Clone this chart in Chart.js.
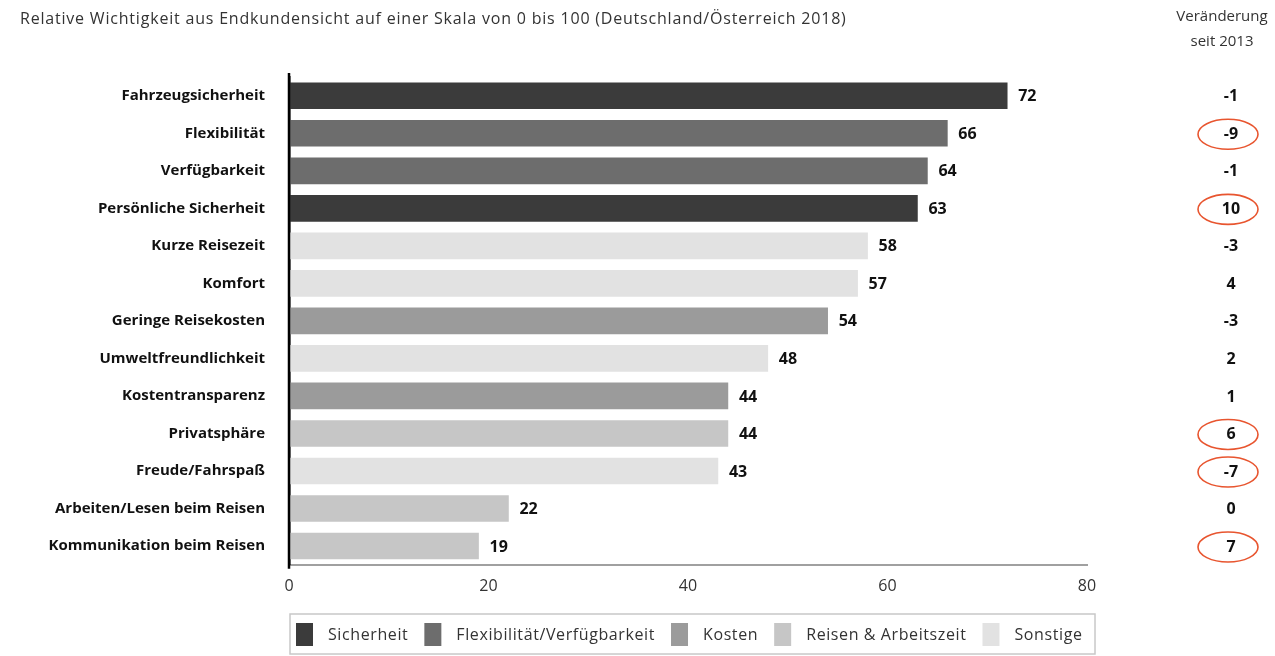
<!DOCTYPE html>
<html lang="de">
<head>
  <meta charset="UTF-8">
  <title>Relative Wichtigkeit aus Endkundensicht</title>
  <script src="https://cdn.jsdelivr.net/npm/chart.js"></script>
  <style>
    html, body { margin: 0; padding: 0; background: #fff; }
    #wrap { width: 1275px; height: 656px; position: relative; }
  </style>
</head>
<body>
<div id="wrap"><canvas id="chart" width="1275" height="656"></canvas></div>
<script>
  const kategorien = [
    'Fahrzeugsicherheit', 'Flexibilität', 'Verfügbarkeit', 'Persönliche Sicherheit',
    'Kurze Reisezeit', 'Komfort', 'Geringe Reisekosten', 'Umweltfreundlichkeit',
    'Kostentransparenz', 'Privatsphäre', 'Freude/Fahrspaß',
    'Arbeiten/Lesen beim Reisen', 'Kommunikation beim Reisen'
  ];
  const werte = [72, 66, 64, 63, 58, 57, 54, 48, 44, 44, 43, 22, 19];
  // Gruppe je Kategorie (Index in gruppen)
  const gruppeIdx = [0, 1, 1, 0, 4, 4, 2, 4, 2, 3, 4, 3, 3];
  const gruppen = ['Sicherheit', 'Flexibilität/Verfügbarkeit', 'Kosten', 'Reisen & Arbeitszeit', 'Sonstige'];
  const farben = ['#3b3b3b', '#6d6d6d', '#9b9b9b', '#c6c6c6', '#e2e2e2'];
  const veraenderung = ['-1', '-9', '-1', '10', '-3', '4', '-3', '2', '1', '6', '-7', '0', '7'];
  const markiert = [false, true, false, true, false, false, false, false, false, true, true, false, true];
  const xTicks = [0, 20, 40, 60, 80];

  const FONT = '"Open Sans", Lato, sans-serif';

  const datasets = gruppen.map((g, gi) => ({
    label: g,
    data: werte.map((v, i) => gruppeIdx[i] === gi ? v : null),
    backgroundColor: farben[gi],
    barThickness: 26,
    grouped: false
  }));

  // Werte an Balkenende, rechte Spalte, Titel und Legende
  const extras = {
    id: 'extras',
    afterDraw(chart) {
      const ctx = chart.ctx;
      const x = chart.scales.x, y = chart.scales.y;
      ctx.save();

      // Achsenlinie links etwas nach oben verlängern
      ctx.strokeStyle = '#000';
      ctx.lineWidth = 2.5;
      ctx.beginPath();
      ctx.moveTo(x.getPixelForValue(0), 73);
      ctx.lineTo(x.getPixelForValue(0), chart.chartArea.bottom + 4);
      ctx.stroke();

      // Werte
      ctx.font = 'bold 16px ' + FONT;
      ctx.fillStyle = '#111';
      ctx.textBaseline = 'middle';
      ctx.textAlign = 'left';
      werte.forEach((v, i) => {
        ctx.fillText(String(v), x.getPixelForValue(v) + 11, y.getPixelForValue(i) + 1);
      });

      // Veränderung seit 2013
      ctx.textAlign = 'center';
      veraenderung.forEach((t, i) => {
        const cy = y.getPixelForValue(i) + 1;
        ctx.fillStyle = '#111';
        ctx.font = 'bold 16px ' + FONT;
        ctx.fillText(t, 1231, cy);
        if (markiert[i]) {
          ctx.strokeStyle = '#e8552f';
          ctx.lineWidth = 1.6;
          ctx.beginPath();
          ctx.ellipse(1228, cy, 30, 15, 0, 0, Math.PI * 2);
          ctx.stroke();
        }
      });

      ctx.fillStyle = '#333';
      ctx.font = '15px ' + FONT;
      ctx.fillText('Veränderung', 1222, 17);
      ctx.fillText('seit 2013', 1222, 42);

      // Titel
      ctx.textAlign = 'left';
      ctx.font = '16px ' + FONT;
      ctx.letterSpacing = '0.8px';
      ctx.fillText('Relative Wichtigkeit aus Endkundensicht auf einer Skala von 0 bis 100 (Deutschland/Österreich 2018)', 20, 19);

      // Legende mit Rahmen
      const lx = 290, ly = 614, lw = 805, lh = 40;
      ctx.strokeStyle = '#c8c8c8';
      ctx.lineWidth = 1.5;
      ctx.strokeRect(lx, ly, lw, lh);
      ctx.font = '16px ' + FONT;
      ctx.letterSpacing = '0.6px';
      let cx = lx + 6;
      gruppen.forEach((g, gi) => {
        ctx.fillStyle = farben[gi];
        ctx.fillRect(cx, ly + 9, 17, 23);
        cx += 17 + 15;
        ctx.fillStyle = '#333';
        ctx.fillText(g, cx, ly + 21);
        cx += ctx.measureText(g).width + 16;
      });

      ctx.restore();
    }
  };

  new Chart(document.getElementById('chart'), {
    type: 'bar',
    data: { labels: kategorien, datasets },
    options: {
      indexAxis: 'y',
      responsive: false,
      animation: false,
      layout: { padding: { top: 77, right: 188, bottom: 48, left: 0 } },
      plugins: { legend: { display: false }, tooltip: { enabled: false } },
      scales: {
        x: {
          min: 0, max: 80,
          afterBuildTicks(s) { s.ticks = xTicks.map(v => ({ value: v })); },
          grid: { display: false, drawTicks: false },
          border: { color: '#a0a0a0', width: 2 },
          ticks: { color: '#333', font: { family: FONT, size: 16 }, padding: 12 }
        },
        y: {
          afterFit(s) { s.width = 289; },
          grid: { display: false, drawTicks: false },
          border: { color: '#000', width: 2.5 },
          ticks: { color: '#111', font: { family: FONT, size: 15, weight: 'bold' }, padding: 24 }
        }
      }
    },
    plugins: [extras]
  });
</script>
</body>
</html>
